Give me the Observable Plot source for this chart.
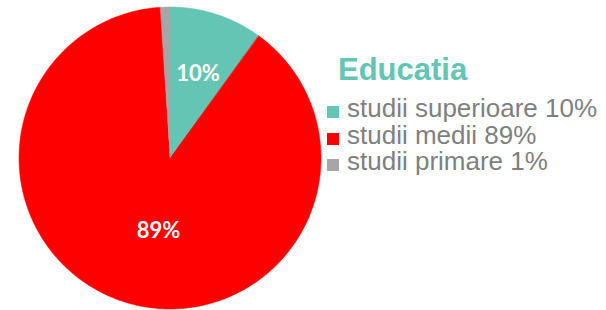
<!DOCTYPE html>
<html><head><meta charset="utf-8">
<script src="https://cdn.jsdelivr.net/npm/d3@7"></script>
<script src="https://cdn.jsdelivr.net/npm/@observablehq/plot@0.6"></script>
<style>
body{margin:0;background:#fff;}
#wrap{position:relative;width:606px;height:310px;overflow:hidden;}
#wrap svg{position:absolute;left:0;top:0;}
.title{position:absolute;left:338px;top:54px;font:bold 31px/31px "Liberation Sans",Arial,sans-serif;white-space:nowrap;}
.row{position:absolute;left:327px;height:26px;font:26px/26px "Liberation Sans",Arial,sans-serif;color:#7F7F7F;white-space:nowrap;}
.sw{position:absolute;left:0;top:11px;width:12px;height:12px;}
.lab{position:absolute;left:20px;top:0;height:26px;}
</style></head><body><div id="wrap"></div>
<script>
const categories = ["studii superioare", "studii medii", "studii primare"];
const values = [10, 89, 1];
const labels = ["10%", "89%", "1%"];
const colors = ["#64C5B4", "#FF0000", "#A6A6A6"];
const titleText = "Educatia";

const rows = categories.map((c, i) => ({category: c, value: values[i], label: labels[i]}));
const arcs = d3.pie().sort(null).value(d => d.value)(rows);

const pts = [];
arcs.forEach(a => {
  const n = Math.max(2, Math.ceil((a.endAngle - a.startAngle) / (Math.PI / 360)));
  for (let k = 0; k <= n; k++) {
    const t = a.startAngle + (a.endAngle - a.startAngle) * k / n;
    pts.push({category: a.data.category, x: Math.sin(t), y: Math.cos(t)});
  }
});

const textPts = arcs.filter(a => a.data.value >= 5).map(a => {
  const mid = (a.startAngle + a.endAngle) / 2;
  const r = a.data.value > 50 ? 0.5 : 0.59;
  return {label: a.data.label, big: a.data.value > 50, x: r * Math.sin(mid), y: r * Math.cos(mid)};
});

const chart = Plot.plot({
  width: 606, height: 310,
  marginLeft: 19, marginRight: 285, marginTop: 7, marginBottom: 1,
  x: {domain: [-1, 1], axis: null},
  y: {domain: [-1, 1], axis: null},
  color: {domain: categories, range: colors},
  style: {background: "white"},
  marks: [
    Plot.area(pts, {x1: "x", y1: "y", x2: d => 0, y2: d => 0, z: "category", fill: "category", stroke: "category", strokeWidth: 0.5, curve: "linear"}),
    Plot.text(textPts.filter(d => !d.big), {x: "x", y: "y", text: "label", fill: "white", fontSize: 22, fontWeight: "bold", fontFamily: "Lato, sans-serif"}),
    Plot.text(textPts.filter(d => d.big), {x: "x", y: "y", text: "label", dx: 9, fill: "white", fontSize: 22, fontWeight: "bold", fontFamily: "Lato, sans-serif"})
  ]
});
const wrap = document.getElementById("wrap");
wrap.appendChild(chart);

const t = document.createElement("div");
t.className = "title"; t.textContent = titleText; t.style.color = colors[0];
wrap.appendChild(t);
rows.forEach((r, i) => {
  const d = document.createElement("div");
  d.className = "row"; d.style.top = (95 + 26.5 * i) + "px";
  const s = document.createElement("div"); s.className = "sw"; s.style.background = colors[i];
  const l = document.createElement("div"); l.className = "lab"; l.textContent = r.category + " " + r.label;
  d.appendChild(s); d.appendChild(l); wrap.appendChild(d);
});
</script></body></html>
